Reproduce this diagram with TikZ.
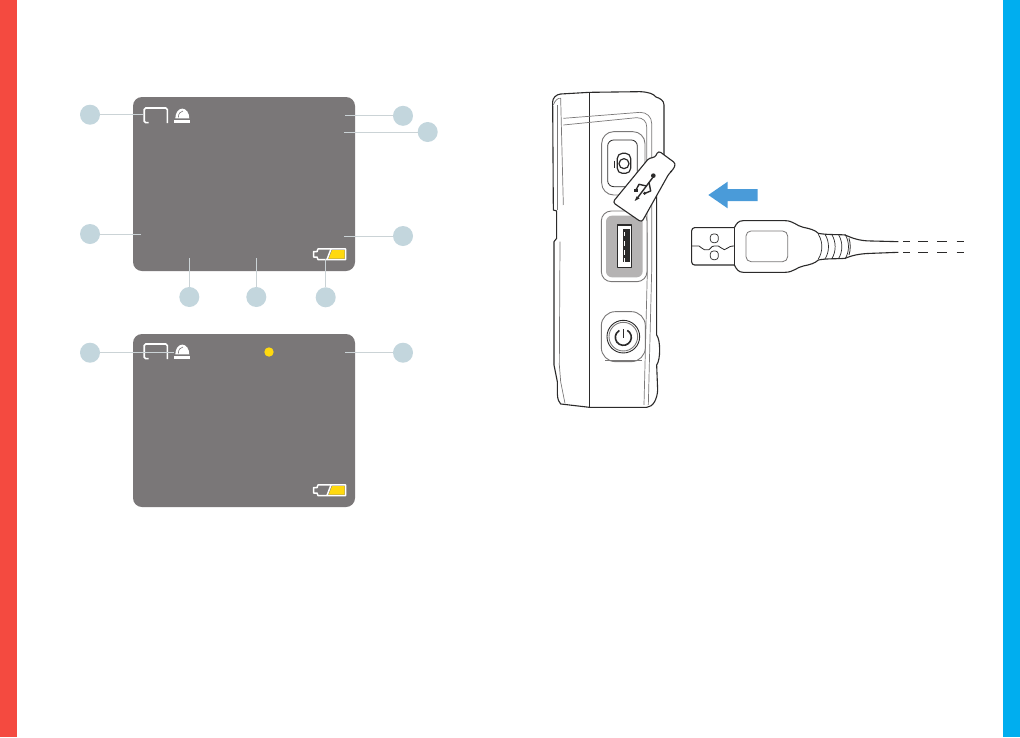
\documentclass[tikz,border=0pt]{standalone}
\usetikzlibrary{calc}
\definecolor{scr}{HTML}{7A7778}
\definecolor{bub}{HTML}{C3D6DD}
\definecolor{lead}{HTML}{CBD3D6}
\definecolor{yel}{HTML}{FFD90F}
\definecolor{redbar}{HTML}{F44A40}
\definecolor{bluebar}{HTML}{00AEEF}
\definecolor{arrowb}{HTML}{4A9BD9}
\definecolor{ink}{HTML}{2B2A2A}
\definecolor{midg}{HTML}{7A7878}
\definecolor{portg}{HTML}{B5B3B3}
\tikzset{
 x=1pt,y=-1pt,
 bubble/.style={circle,fill=bub,draw=none,minimum size=20pt,inner sep=0pt},
 leader/.style={draw=lead,line width=0.9pt},
 screen/.style={fill=scr,draw=none,rounded corners=9pt},
 icon/.style={draw=white,line width=1.6pt},
 dev/.style={draw=ink,line width=1.1pt,line join=round},
 devthin/.style={draw=midg,line width=0.7pt,line join=round},
 z3/.style={shift={(#1)},x=0.3333pt,y=-0.3333pt},
}
\newcommand{\sirenicon}[2]{%
 \fill[white] (#1+175.3,#2+118.4) arc[start angle=180,end angle=360,x radius=7,y radius=9.8] -- cycle;
 \draw[scr,line width=0.6pt] (#1+178.3,#2+117.5) .. controls (#1+178.5,#2+113.5) and (#1+180,#2+111.5) .. (#1+183,#2+111);
 \fill[white] (#1+174,#2+119.6) rectangle (#1+190,#2+122.8);}
\newcommand{\bracketicon}[2]{%
 \draw[icon,rounded corners=1.5pt] (#1+148.5,#2+122.6) -- (#1+144.2,#2+122.6) -- (#1+144.2,#2+108) -- (#1+167.3,#2+108) -- (#1+167.3,#2+123.2);}
\newcommand{\batteryicon}[2]{%
 \draw[white,line width=1.5pt,line join=round] (#1+318,#2+248.9) -- (#1+345.5,#2+248.9) -- (#1+345.5,#2+259.6) -- (#1+318,#2+259.6) -- (#1+317,#2+257) -- (#1+313.6,#2+257) -- (#1+313.6,#2+251.6) -- (#1+317,#2+251.6) -- cycle;
 \fill[yel] (#1+332,#2+250.2) -- (#1+344.5,#2+250.2) -- (#1+344.5,#2+258.6) -- (#1+328.6,#2+258.6) -- cycle;
 \draw[white,line width=1.5pt] (#1+331,#2+249) -- (#1+327,#2+259.5);}
\begin{document}
\begin{tikzpicture}
\useasboundingbox (0,0) rectangle (1020,737);
\fill[white] (0,0) rectangle (1020,737);
\fill[redbar] (0,0) rectangle (17,737);
\fill[bluebar] (1003,0) rectangle (1020,737);
% screens
\path[screen] (133,97) rectangle (355,271);
\path[screen] (133,334) rectangle (355,507);
% icons screen 1
\bracketicon{0}{0}
\sirenicon{0}{0}
\batteryicon{0}{0}
% icons screen 2
\bracketicon{0}{236}
\sirenicon{0}{236}
\batteryicon{0}{236}
\node[circle,fill=yel,minimum size=9.4pt,inner sep=0pt] (dot) at (269,352) {};
% bubbles
\node[bubble] (b1) at (90,114.7) {};
\node[bubble] (b2) at (403,115.8) {};
\node[bubble] (b3) at (427.7,132) {};
\node[bubble] (b4) at (90,234) {};
\node[bubble] (b5) at (403,236) {};
\node[bubble] (b6) at (189.3,297) {};
\node[bubble] (b7) at (256.3,297) {};
\node[bubble] (b8) at (325.7,297.3) {};
\node[bubble] (b9) at (90,352.7) {};
\node[bubble] (b10) at (403,352.7) {};
\coordinate (e1) at (143,114.7);
\coordinate (e2) at (345,115.8);
\coordinate (e3) at (344,132);
\coordinate (e4) at (141,234);
\coordinate (e5) at (344,236);
\coordinate (e6) at (189.3,258.3);
\coordinate (e7) at (256.3,258.3);
\coordinate (e8) at (325.7,259);
\coordinate (e9) at (174,352.7);
\coordinate (e10) at (345,352.7);
\draw[leader] (b1) -- (e1);
\draw[leader] (b2) -- (e2);
\draw[leader] (b3) -- (e3);
\draw[leader] (b4) -- (e4);
\draw[leader] (b5) -- (e5);
\draw[leader] (b6) -- (e6);
\draw[leader] (b7) -- (e7);
\draw[leader] (b8) -- (e8);
\draw[leader] (b9) -- (e9);
\draw[leader] (b10) -- (e10);
% device
\begin{scope}[z3={540,85}]
 \draw[dev] (62,27) -- (148,22) -- (300,20) .. controls (325,21) and (340,26) .. (348,36) .. controls (360,40) and (372,46) .. (372,60) -- (372,230) -- (350,260) -- (350,750) .. controls (362,765) and (362,825) .. (350,840) -- (353,915) .. controls (352,940) and (340,967) .. (320,967) -- (148,967) -- (62,957) .. controls (56,950) and (53,945) .. (52,925) -- (52,890) -- (42,840) -- (42,470) -- (50,460) -- (50,378) -- (40,375) -- (38,50) .. controls (38,40) and (48,28) .. (62,27) -- cycle;
 \draw[dev] (148,22) -- (148,967);
 \draw[devthin] (40,60) .. controls (45,45) and (55,38) .. (62,40) -- (70,360);
 \draw[devthin] (52,60) -- (52,375);
 \draw[devthin] (60,470) -- (58,840) -- (62,890) -- (75,955);
 \draw[devthin] (70,100) -- (300,82) .. controls (320,82) and (335,95) .. (335,115) -- (335,560) -- (325,960);
 \draw[devthin] (70,120) -- (290,98) .. controls (310,98) and (320,110) .. (320,125) -- (322,560) -- (312,960);
 % camera button
 \draw[devthin,rounded corners=12pt,fill=white,line width=0.9pt] (185,140) rectangle (315,330);
 \draw[dev,line width=0.8pt,rounded corners=6pt] (203,165) rectangle (292,305);
 \draw[dev,rounded corners=5pt,line width=1.2pt] (232,205) rectangle (272,265);
 \fill[white] (230,199) rectangle (236,205);
 \draw[dev,line width=1.2pt] (252,236) circle[radius=15];
 \draw[dev,line width=0.9pt] (222,227) -- (222,250);
 % usb port
 \draw[devthin,rounded corners=10pt,fill=white,line width=0.9pt] (184,378) rectangle (321,590);
 \draw[draw=none,fill=portg,rounded corners=6pt] (198,392) rectangle (308,577);
 \draw[dev,fill=white,line width=1.1pt] (232,420) rectangle (275,548);
 \fill[ink] (250,432) rectangle (271,532);
 \foreach \yy in {440,468,496,518} \fill[white] (251,\yy) rectangle (255,\yy+14);
 % power button
 \draw[devthin,rounded corners=14pt,line width=0.9pt,fill=white] (184,680) rectangle (316,830);
 \draw[midg,line width=1pt] (195,827) -- (305,827);
 \draw[dev,line width=0.9pt] (250,755) circle[radius=49];
 \draw[devthin,line width=0.9pt] (250,755) circle[radius=43];
 \draw[dev,line width=1.6pt] (250,757) ++(300:24) arc[start angle=300,end angle=600,radius=24];
 \draw[dev,line width=1.6pt] (250,733) -- (250,760);
 % tag
 \draw[dev,fill=white,rounded corners=3pt] (218,352) -- (328,218) -- (345,218) -- (355,197) -- (408,236) -- (398,256) -- (388,264) -- (305,412) -- cycle;
 % usb symbol
 \fill[ink] (340,272) circle[radius=7];
 \draw[dev,line width=1.4pt] (338,278) -- (290,342);
 \draw[dev,line width=1.4pt] (320,303) -- (297,298) -- (288,315);
 \fill[ink] (283,312) rectangle (295,321);
 \draw[dev,line width=1.4pt] (327,292) -- (332,318) -- (315,325);
 \fill[ink] (314,325) circle[radius=5];
 \fill[ink] (284,348) -- (290,334) -- (299,340) -- cycle;
\end{scope}
% cable
\begin{scope}[z3={685,175}]
 \fill[arrowb] (70,60) -- (128,20) -- (128,42) -- (218,42) -- (218,78) -- (128,78) -- (128,100) -- cycle;
 \draw[dev,rounded corners=3pt] (148,158) -- (20,158) -- (20,270) -- (148,270);
 \draw[dev,line width=0.8pt] (20,213) -- (42,213) .. controls (50,213) and (48,224) .. (58,224) -- (72,224) .. controls (78,224) and (76,213) .. (88,213) -- (100,213) .. controls (108,213) and (108,224) .. (118,224) .. controls (130,224) and (125,213) .. (148,213);
 \draw[dev,line width=0.7pt,rounded corners=3pt] (76,177) rectangle (100,203);
 \draw[dev,line width=0.7pt,rounded corners=3pt] (76,228) rectangle (100,254);
 \draw[dev] (148,158) .. controls (155,145) and (160,137) .. (175,137) -- (300,137) .. controls (325,137) and (335,153) .. (355,157) .. controls (375,161) and (390,165) .. (400,175) .. controls (425,180) and (460,178) .. (480,180) .. controls (500,188) and (520,198) .. (560,198) -- (640,200);
 \draw[dev] (148,270) .. controls (155,283) and (160,292) .. (175,292) -- (300,292) .. controls (325,292) and (335,277) .. (355,273) .. controls (375,269) and (390,265) .. (400,255) .. controls (425,250) and (460,252) .. (480,250) .. controls (500,242) and (520,236) .. (560,235) -- (640,232);
 \draw[dev] (148,158) -- (148,270);
 \draw[midg,line width=0.8pt,rounded corners=5pt] (183,168) rectangle (308,260);
 \foreach \xx in {400,420,440,460,480}
   \draw[dev,line width=0.7pt] (\xx,178) .. controls (\xx+14,200) and (\xx+14,230) .. (\xx,252);
 \draw[dev,line width=0.8pt] (492,190) .. controls (497,205) and (497,225) .. (492,240);
 \foreach \aa/\bb in {655/675,700/730,757/785,815/838}
   {\draw[ink,line width=1.2pt] (\aa,200) -- (\bb,200);
    \draw[ink,line width=0.6pt] (\aa,232) -- (\bb,232);}
\end{scope}
\end{tikzpicture}
\end{document}
